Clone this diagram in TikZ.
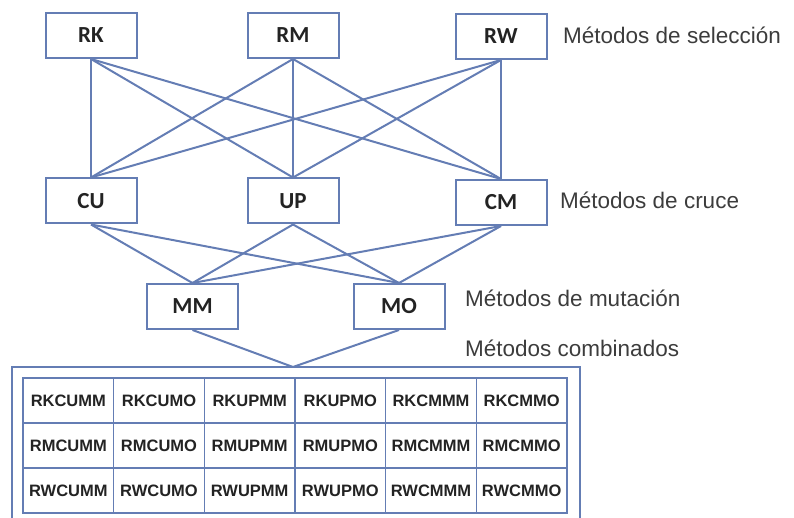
\documentclass[tikz,border=0pt]{standalone}
\usepackage{fontspec}
\setmainfont{Liberation Sans}
\newfontfamily\boxfont{Carlito}
\definecolor{lc}{RGB}{100,125,180}
\definecolor{tc}{RGB}{35,35,35}
\definecolor{lt}{RGB}{60,60,60}
\begin{document}
\begin{tikzpicture}[x=1pt,y=-1pt,
 box/.style={draw=lc,line width=2pt,minimum width=91pt,minimum height=45pt,inner sep=0pt,font=\boxfont\bfseries\fontsize{23}{23}\selectfont,text=tc},
 conn/.style={draw=lc,line width=2pt},
 lab/.style={anchor=west,inner sep=0pt,font=\fontsize{22.5}{22.5}\selectfont,text=lt},
 cell/.style={draw=lc,line width=1.5pt,minimum width=90.67pt,minimum height=45pt,inner sep=0pt,font=\bfseries\fontsize{16.5}{16.5}\selectfont,text=tc}]
\useasboundingbox (0,0) rectangle (794,518);
\clip (0,0) rectangle (794,518);
% top row
\node[box] (RK) at (91,35.5) {RK};
\node[box] (RM) at (293,35.5) {RM};
\node[box] (RW) at (501,36.5) {RW};
% middle row
\node[box] (CU) at (91,201) {CU};
\node[box] (UP) at (293,201) {UP};
\node[box] (CM) at (501,202.5) {CM};
% mutation row
\node[box] (MM) at (192.5,306.5) {MM};
\node[box] (MO) at (399,306.5) {MO};
% labels
\node[lab] (l1) at (563,35) {Métodos de selección};
\node[lab] (l2) at (560,200) {Métodos de cruce};
\node[lab] (l3) at (465,298) {Métodos de mutación};
\node[lab] (l4) at (465,348) {Métodos combinados};
% connectors
\foreach \a in {RK,RM,RW}{
  \foreach \b in {CU,UP,CM}{
    \draw[conn] (\a.south) -- (\b.north);
  }
}
\foreach \a in {CU,UP,CM}{
  \foreach \b in {MM,MO}{
    \draw[conn] (\a.south) -- (\b.north);
  }
}
% table
\coordinate (tt) at (293,367);
\coordinate (obl) at (12,530);
\coordinate (obr) at (580,530);
\draw[draw=lc,line width=2pt] (obl) -- (12,367) -- (tt) -- (580,367) -- (obr);
\draw[conn] (MM.south) -- (tt);
\draw[conn] (MO.south) -- (tt);
\foreach \p [count=\r] in {RK,RM,RW}{
  \foreach \m [count=\i] in {CU,UP,CM}{
    \foreach \s [count=\j] in {MM,MO}{
      \pgfmathsetmacro\c{(\i-1)*2+\j}
      \node[cell] (c\r-\i-\j) at ({23+90.667*(\c-0.5)},{378+45*(\r-0.5)}) {\p\m\s};
    }
  }
}
\end{tikzpicture}
\end{document}
